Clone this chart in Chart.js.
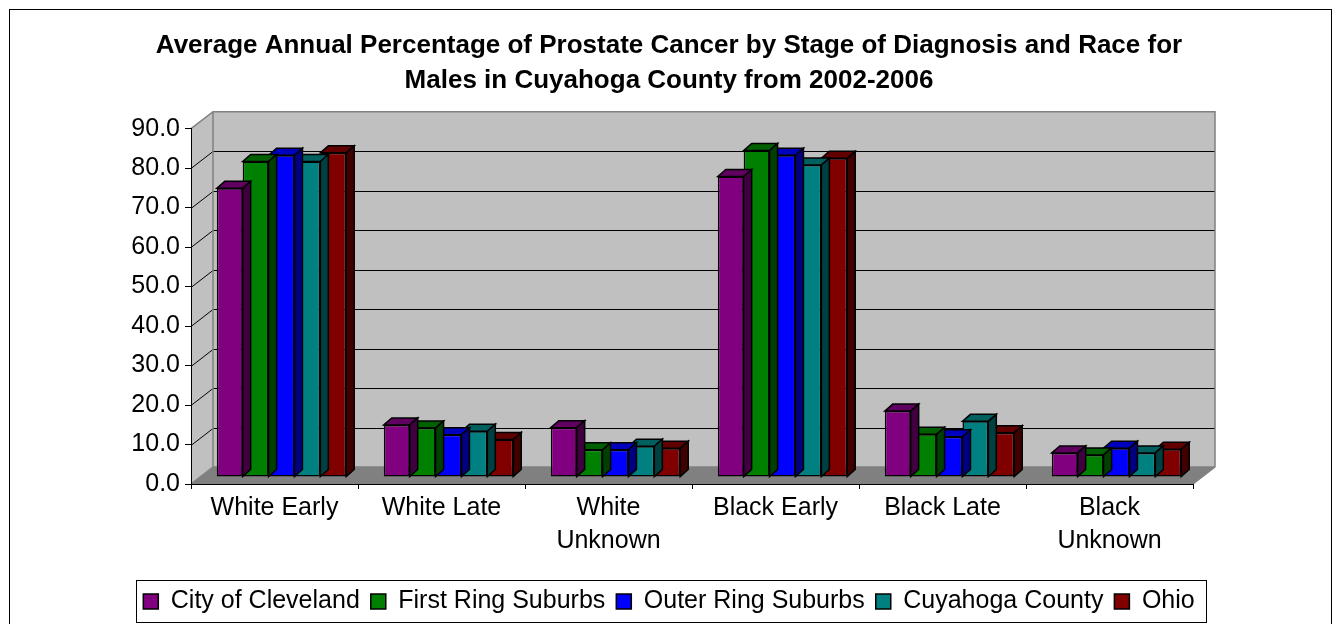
<!DOCTYPE html>
<html>
<head>
<meta charset="utf-8">
<script src="https://cdn.jsdelivr.net/npm/chart.js@4/dist/chart.umd.min.js"></script>
<style>
html,body{margin:0;padding:0;background:#fff;}
#wrap{width:1338px;height:624px;position:relative;}
</style>
</head>
<body>
<div id="wrap"><canvas id="c" width="1338" height="624"></canvas></div>
<script>
const categories = [["White Early"], ["White Late"], ["White", "Unknown"], ["Black Early"], ["Black Late"], ["Black", "Unknown"]];
const seriesNames = ["City of Cleveland", "First Ring Suburbs", "Outer Ring Suburbs", "Cuyahoga County", "Ohio"];
const cityOfCleveland   = [73.1, 13.2, 12.5, 76.1, 16.7, 6.1];
const firstRingSuburbs  = [79.9, 12.4, 6.9, 82.7, 10.8, 5.6];
const outerRingSuburbs  = [81.5, 10.7, 6.9, 81.5, 10.2, 7.3];
const cuyahogaCounty    = [79.9, 11.6, 7.8, 79.0, 14.1, 6.1];
const ohio              = [82.1, 9.5, 7.3, 80.7, 11.2, 7.0];
const seriesColors = ["#800080", "#008000", "#0000FF", "#008080", "#800000"];
const yTicks = [0, 10, 20, 30, 40, 50, 60, 70, 80, 90];

const FONT = "'Liberation Sans', Arial, sans-serif";
const WALL_DX = 22, WALL_DY = -17;   // depth of the plot box
const BAR_SHIFT_X = 7, BAR_SHIFT_Y = -7; // bars sit in the middle of the depth
const BAR_DX = 8, BAR_DY = -7;       // depth of each bar

function shade(hex, f) {
  const n = parseInt(hex.slice(1), 16);
  const r = Math.round(((n >> 16) & 255) * f), g = Math.round(((n >> 8) & 255) * f), b = Math.round((n & 255) * f);
  return `rgb(${r},${g},${b})`;
}

const seriesData = [cityOfCleveland, firstRingSuburbs, outerRingSuburbs, cuyahogaCounty, ohio];

const walls = {
  id: 'walls',
  beforeDraw(chart) {
    const ctx = chart.ctx, a = chart.chartArea, y = chart.scales.y;
    const L = a.left, R = a.right, B = y.getPixelForValue(0), T = y.getPixelForValue(90);
    ctx.save();
    // outer border
    ctx.strokeStyle = '#000'; ctx.lineWidth = 1;
    ctx.strokeRect(9.5, 9.5, 1322, 700);
    // back wall
    ctx.fillStyle = '#C0C0C0';
    ctx.fillRect(L + WALL_DX, T + WALL_DY, R - L, B - T);
    // left wall
    ctx.beginPath();
    ctx.moveTo(L, T); ctx.lineTo(L + WALL_DX, T + WALL_DY); ctx.lineTo(L + WALL_DX, B + WALL_DY); ctx.lineTo(L, B); ctx.closePath();
    ctx.fill();
    // floor
    ctx.fillStyle = '#808080';
    ctx.beginPath();
    ctx.moveTo(L, B); ctx.lineTo(L + WALL_DX, B + WALL_DY); ctx.lineTo(R + WALL_DX, B + WALL_DY); ctx.lineTo(R, B); ctx.closePath();
    ctx.fill();
    // gridlines
    ctx.strokeStyle = '#000'; ctx.lineWidth = 1;
    yTicks.forEach(v => {
      if (v === 0 || v === 90) return;
      const py = Math.round(y.getPixelForValue(v)) + 0.5;
      ctx.beginPath();
      ctx.moveTo(L, py); ctx.lineTo(L + WALL_DX, py + WALL_DY);
      ctx.lineTo(R + WALL_DX, py + WALL_DY);
      ctx.stroke();
    });
    // wall edges
    ctx.strokeStyle = '#808080'; ctx.lineWidth = 1.5;
    ctx.beginPath();
    ctx.moveTo(L, T); ctx.lineTo(L + WALL_DX, T + WALL_DY); ctx.lineTo(R + WALL_DX, T + WALL_DY);
    ctx.lineTo(R + WALL_DX, B + WALL_DY); ctx.lineTo(R, B);
    ctx.moveTo(L + WALL_DX, T + WALL_DY); ctx.lineTo(L + WALL_DX, B + WALL_DY);
    ctx.moveTo(L, B); ctx.lineTo(L + WALL_DX, B + WALL_DY); ctx.lineTo(R + WALL_DX, B + WALL_DY);
    ctx.stroke();
    // front floor edge
    ctx.strokeStyle = '#000'; ctx.lineWidth = 1;
    ctx.beginPath(); ctx.moveTo(L, B + 0.5); ctx.lineTo(R, B + 0.5); ctx.stroke();
    ctx.restore();
  },
  beforeDatasetDraw(chart) {
    chart.ctx.save();
    chart.ctx.translate(BAR_SHIFT_X, BAR_SHIFT_Y);
  },
  afterDatasetDraw(chart, args) {
    const ctx = chart.ctx;
    const color = seriesColors[args.index];
    ctx.lineWidth = 1.5; ctx.strokeStyle = '#000'; ctx.lineJoin = 'miter';
    args.meta.data.forEach(el => {
      const p = el.getProps(['x', 'y', 'base', 'width'], true);
      const l = p.x - p.width / 2, r = p.x + p.width / 2;
      // top face
      ctx.fillStyle = shade(color, 0.75);
      ctx.beginPath();
      ctx.moveTo(l, p.y); ctx.lineTo(l + BAR_DX, p.y + BAR_DY); ctx.lineTo(r + BAR_DX, p.y + BAR_DY); ctx.lineTo(r, p.y); ctx.closePath();
      ctx.fill(); ctx.stroke();
      // side face
      ctx.fillStyle = shade(color, 0.5);
      ctx.beginPath();
      ctx.moveTo(r, p.y); ctx.lineTo(r + BAR_DX, p.y + BAR_DY); ctx.lineTo(r + BAR_DX, p.base + BAR_DY); ctx.lineTo(r, p.base); ctx.closePath();
      ctx.fill(); ctx.stroke();
    });
    ctx.restore();
  },
  afterDraw(chart) {
    const lg = chart.legend;
    if (!lg || !lg.legendHitBoxes.length) return;
    const hb = lg.legendHitBoxes;
    const left = Math.min(...hb.map(h => h.left)) - 7;
    const right = Math.max(...hb.map(h => h.left + h.width)) + 12;
    const ctx = chart.ctx;
    ctx.save();
    ctx.strokeStyle = '#000'; ctx.lineWidth = 1;
    ctx.strokeRect(Math.round(left) + 0.5, 580.5, Math.round(right - left), 42);
    ctx.restore();
  }
};

new Chart(document.getElementById('c'), {
  type: 'bar',
  data: {
    labels: categories,
    datasets: seriesNames.map((name, i) => ({
      label: name,
      data: seriesData[i],
      backgroundColor: seriesColors[i],
      borderColor: '#000',
      borderWidth: 1.5,
      borderSkipped: false,
      categoryPercentage: 0.775,
      barPercentage: 1.0,
      clip: false
    }))
  },
  options: {
    responsive: false,
    animation: false,
    devicePixelRatio: 1,
    layout: { padding: { left: 0, right: 0, top: 0, bottom: 0 } },
    plugins: {
      title: {
        display: true,
        text: ["Average Annual Percentage of Prostate Cancer by Stage of Diagnosis and Race for", "Males in Cuyahoga County from 2002-2006"],
        color: '#000',
        font: { family: FONT, size: 26, weight: 'bold', lineHeight: 1.32 },
        padding: { top: 29, bottom: 31 }
      },
      legend: {
        position: 'bottom',
        labels: {
          color: '#000',
          font: { family: FONT, size: 25 },
          boxWidth: 15, boxHeight: 15,
          padding: 11
        }
      },
      tooltip: { enabled: false }
    },
    scales: {
      x: {
        grid: { display: true, drawOnChartArea: false, offset: true, color: '#000', tickLength: 5, tickColor: '#000' },
        border: { display: false },
        ticks: { color: '#000', font: { family: FONT, size: 25, lineHeight: 1.33 }, padding: 2, maxRotation: 0, autoSkip: false },
        afterFit(s) { s.height = 94; }
      },
      y: {
        min: 0, max: 90,
        grid: { display: true, drawOnChartArea: false, color: '#000', tickLength: 6, tickColor: '#000' },
        border: { display: true, color: '#000', width: 1 },
        ticks: { stepSize: 10, color: '#000', font: { family: FONT, size: 25 }, padding: 5, callback: v => v.toFixed(1) },
        afterFit(s) { s.width = 191; }
      },
      spacer: {
        type: 'linear',
        position: 'right',
        display: true,
        grid: { display: false },
        border: { display: false },
        ticks: { display: false },
        afterFit(s) { s.width = 145; }
      }
    }
  },
  plugins: [walls]
});
</script>
</body>
</html>
